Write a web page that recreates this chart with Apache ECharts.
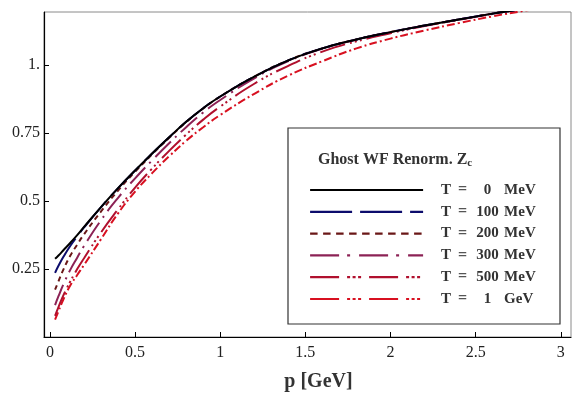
<!DOCTYPE html>
<html>
<head>
<meta charset="utf-8">
<script src="https://cdn.jsdelivr.net/npm/echarts@6/dist/echarts.min.js"></script>
<style>
  html, body { margin: 0; padding: 0; background: #fff; }
  #chart { width: 575px; height: 394px; }
</style>
</head>
<body>
<div id="chart"></div>
<script>
// momentum grid [GeV]
const p = [0.03, 0.05, 0.08, 0.12, 0.16, 0.2, 0.3, 0.4, 0.5, 0.6, 0.7, 0.8, 0.9, 1.0, 1.2, 1.4, 1.6, 1.8, 2.0, 2.2, 2.4, 2.6, 2.8, 3.0];

// ghost wave function renormalization Z_c for each temperature
const zT0 = [0.288, 0.300, 0.320, 0.347, 0.375, 0.405, 0.478, 0.548, 0.613, 0.675, 0.735, 0.792, 0.842, 0.885, 0.958, 1.018, 1.062, 1.095, 1.122, 1.146, 1.168, 1.190, 1.210, 1.230];
const zT100 = [0.236, 0.262, 0.296, 0.336, 0.370, 0.403, 0.478, 0.548, 0.613, 0.675, 0.735, 0.792, 0.842, 0.885, 0.958, 1.018, 1.062, 1.095, 1.122, 1.146, 1.168, 1.190, 1.210, 1.230];
const zT200 = [0.174, 0.205, 0.250, 0.300, 0.340, 0.378, 0.462, 0.539, 0.608, 0.672, 0.733, 0.791, 0.841, 0.885, 0.958, 1.018, 1.062, 1.095, 1.122, 1.146, 1.168, 1.190, 1.210, 1.230];
const zT300 = [0.117, 0.150, 0.195, 0.248, 0.292, 0.335, 0.430, 0.512, 0.584, 0.650, 0.713, 0.772, 0.826, 0.872, 0.952, 1.015, 1.061, 1.095, 1.122, 1.146, 1.168, 1.190, 1.210, 1.230];
const zT500 = [0.078, 0.110, 0.155, 0.205, 0.250, 0.290, 0.385, 0.470, 0.550, 0.620, 0.685, 0.745, 0.800, 0.848, 0.932, 0.998, 1.050, 1.088, 1.118, 1.144, 1.167, 1.189, 1.209, 1.229];
const zT1000 = [0.064, 0.095, 0.140, 0.190, 0.228, 0.265, 0.360, 0.455, 0.535, 0.603, 0.665, 0.722, 0.772, 0.817, 0.895, 0.962, 1.015, 1.062, 1.098, 1.128, 1.155, 1.180, 1.202, 1.222];

const seriesNames = ["T = 0 MeV", "T = 100 MeV", "T = 200 MeV", "T = 300 MeV", "T = 500 MeV", "T = 1 GeV"];
const xTicks = [0, 0.5, 1, 1.5, 2, 2.5, 3];
const yTicks = [0.25, 0.5, 0.75, 1];

const colors = ["#000000", "#0c0c6c", "#6a1717", "#8c2255", "#b0102e", "#d81020"];
const plotDash = ["solid", [40, 8], [5, 4], [22, 6, 2, 6], [26, 5, 2, 3, 2, 3, 2, 5], [8, 3, 2, 3]];
const legendDash = ["solid", [42, 8], [7.5, 5.5], [29, 8, 3, 9], [29, 8, 3, 2.5, 3, 2.5, 3, 8], [29, 8, 3, 2.5, 3, 2.5, 3, 8]];
const allZ = [zT0, zT100, zT200, zT300, zT500, zT1000];

const serif = "'Liberation Serif', 'DejaVu Serif', serif";
const chart = echarts.init(document.getElementById("chart"));

chart.setOption({
  animation: false,
  color: colors,
  grid: {
    left: 44, right: 4, top: 12, bottom: 57,
    outerBoundsMode: "none",
    show: true, borderColor: "#8a8a8a", borderWidth: 1, backgroundColor: "transparent"
  },
  xAxis: {
    type: "value",
    min: -0.035,
    max: 3.06,
    name: "p [GeV]",
    nameLocation: "middle",
    nameGap: 35,
    nameTextStyle: { fontFamily: serif, fontSize: 20, fontWeight: "bold", color: "#333", padding: [0, 0, 0, 22] },
    axisLine: { onZero: false, lineStyle: { color: "#000", width: 1.2 } },
    axisTick: { inside: true, length: 5, customValues: xTicks, lineStyle: { color: "#000" } },
    axisLabel: {
      customValues: xTicks,
      margin: 8,
      fontFamily: serif, fontSize: 16, color: "#222",
      formatter: (v) => String(v)
    },
    splitLine: { show: false }
  },
  yAxis: {
    type: "value",
    min: 0,
    max: 1.196,
    axisLine: { show: true, onZero: false, lineStyle: { color: "#000", width: 1.2 } },
    axisTick: { show: true, inside: true, length: 5, customValues: yTicks, lineStyle: { color: "#000" } },
    axisLabel: {
      customValues: yTicks,
      margin: 4,
      fontFamily: serif, fontSize: 16, color: "#222",
      formatter: (v) => (v === 1 ? "1." : String(v))
    },
    splitLine: { show: false }
  },
  legend: {
    orient: "vertical",
    left: 304,
    top: 177,
    z: 100,
    itemWidth: 113,
    itemHeight: 14,
    itemGap: 5.8,
    selectedMode: false,
    data: seriesNames.map((n, i) => ({
      name: n,
      itemStyle: { opacity: 0 },
      lineStyle: { color: colors[i], width: 2.2, type: legendDash[i] }
    })),
    formatter: (name) => {
      const parts = name.split(" ");
      return "{s| }{a|T}{e|=}{b|" + parts[2] + "}{c|" + parts[3] + "}";
    },
    textStyle: {
      fontFamily: serif, fontSize: 15, fontWeight: "bold", color: "#333",
      rich: {
        s: { width: 13 },
        a: { width: 17, fontFamily: serif, fontSize: 15, fontWeight: "bold", color: "#333" },
        e: { width: 18, fontFamily: serif, fontSize: 16, color: "#555" },
        b: { width: 23, align: "right", fontFamily: serif, fontSize: 15, fontWeight: "bold", color: "#333" },
        c: { padding: [0, 0, 0, 5], fontFamily: serif, fontSize: 15, fontWeight: "bold", color: "#333" }
      }
    }
  },
  graphic: [
    {
      type: "rect",
      shape: { x: 288, y: 128, width: 272, height: 196 },
      style: { fill: "#fff", stroke: "#333", lineWidth: 1.2 },
      z: 10
    },
    {
      type: "text",
      x: 318,
      y: 150,
      z: 11,
      style: {
        text: "{t|Ghost WF Renorm. Z}{s|c}",
        rich: {
          t: { fontFamily: serif, fontSize: 16, fontWeight: "bold", fill: "#333" },
          s: { fontFamily: serif, fontSize: 11, fontWeight: "bold", fill: "#333", padding: [8, 0, 0, 0] }
        }
      }
    }
  ],
  series: allZ.map((z, i) => ({
    name: seriesNames[i],
    type: "line",
    smooth: true,
    showSymbol: false,
    symbol: "none",
    clip: true,
    z: 2 + (5 - i),
    itemStyle: { color: colors[i] },
    lineStyle: { color: colors[i], width: 2, type: plotDash[i] },
    data: p.map((x, j) => [x, z[j]])
  }))
});
</script>
</body>
</html>
